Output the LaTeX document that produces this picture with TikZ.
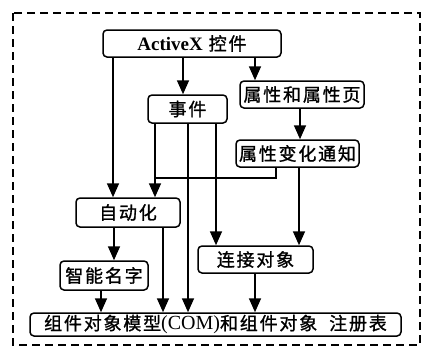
\documentclass[tikz,border=0pt]{standalone}
\usepackage{fontspec}
\setmainfont{Liberation Serif}
\newfontfamily\cjk{Noto Sans CJK SC}[LetterSpace=10,FakeBold=1.2]
\usetikzlibrary{arrows.meta}
\begin{document}
\begin{tikzpicture}[x=1pt,y=-1pt,
 box/.style={draw, line width=1.5pt, rounded corners=4pt, inner sep=0pt, align=center,
   font=\cjk\fontsize{18}{20}\selectfont},
 arr/.style={line width=1.7pt, -{Triangle[width=12pt,length=14pt]}},
 ln/.style={line width=1.7pt}]
\useasboundingbox (0,0) rectangle (422,354);
\draw[line width=1.3pt, dash pattern=on 8pt off 5pt] (13,13) rectangle (420,345);

\node[box, minimum width=178pt, minimum height=27pt] (act) at (192,43.5)
  {{\fontsize{19}{20}\selectfont\rmfamily\bfseries ActiveX} 控件};
\node[box, minimum width=79pt, minimum height=28pt] (evt) at (187.5,109) {事件};
\node[box, minimum width=124pt, minimum height=27pt] (prop) at (302,94.5) {属性和属性页};
\node[box, minimum width=123pt, minimum height=27pt] (notif) at (297.5,153.5) {属性变化通知};
\node[box, minimum width=104pt, minimum height=29pt] (auto) at (128,212.5) {自动化};
\node[box, minimum width=88pt, minimum height=29pt] (smart) at (104,275.5) {智能名字};
\node[box, minimum width=115pt, minimum height=27pt] (conn) at (255.5,259.5) {连接对象};
\node[box, minimum width=371pt, minimum height=23pt] (com) at (215.5,324.5)
  {组件对象模型{\rmfamily\fontsize{20}{20}\selectfont(COM)}和组件对象\hspace{12pt}注册表};

\coordinate (j) at (155,178);

\draw[arr] (act.south -| 113,0) -- (auto.north -| 113,0);
\draw[arr] (act.south -| 183,0) -- (evt.north -| 183,0);
\draw[arr] (act.south -| 255,0) -- (prop.north -| 255,0);
\draw[arr] (prop.south -| 300,0) -- (notif.north -| 300,0);
\draw[arr] (evt.south -| 155,0) -- (auto.north -| 155,0);
\draw[ln] (notif.south -| 276,0) |- (j);
\draw[arr] (evt.south -| 188,0) -- (com.north -| 188,0);
\draw[arr] (evt.south -| 216,0) -- (conn.north -| 216,0);
\draw[arr] (notif.south -| 299,0) -- (conn.north -| 299,0);
\draw[arr] (auto.south -| 114,0) -- (smart.north -| 114,0);
\draw[arr] (auto.south -| 163,0) -- (com.north -| 163,0);
\draw[arr] (smart.south -| 101,0) -- (com.north -| 101,0);
\draw[arr] (conn.south -| 255,0) -- (com.north -| 255,0);
\end{tikzpicture}
\end{document}
